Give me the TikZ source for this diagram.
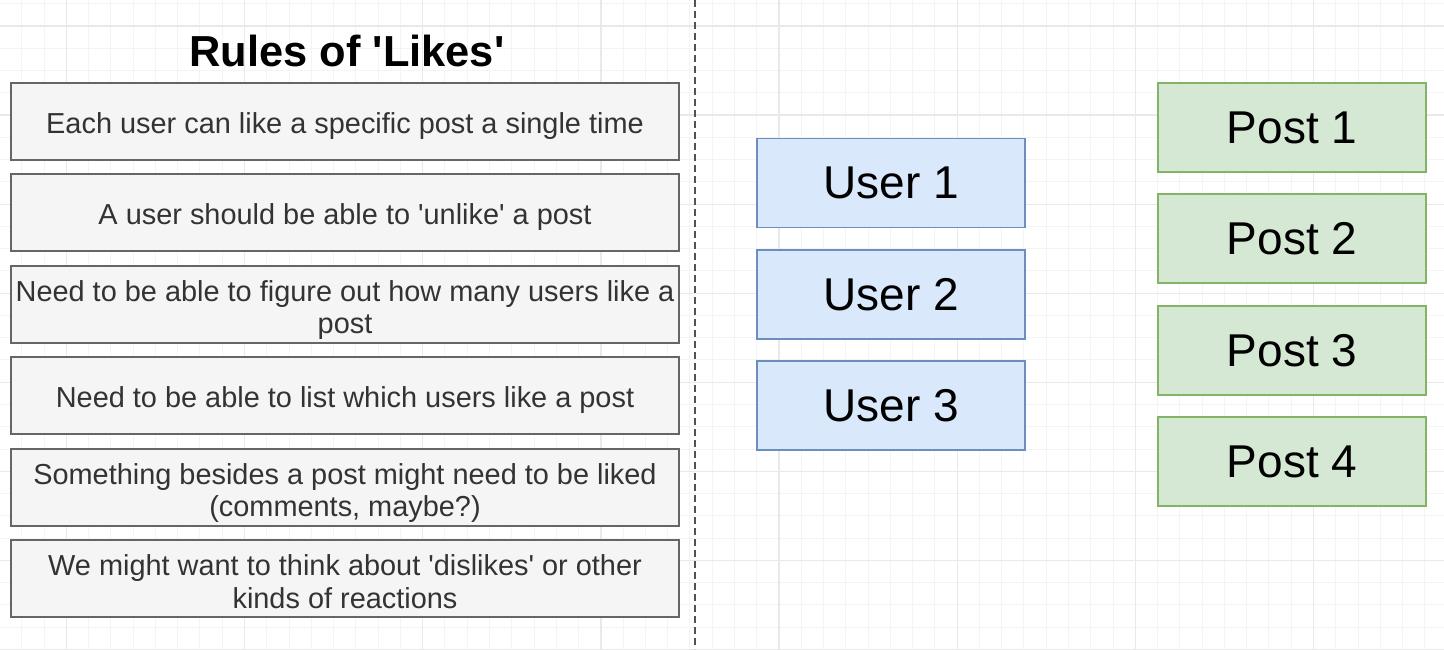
\documentclass[tikz,border=0pt]{standalone}
\usepackage{fontspec}
\setmainfont{Liberation Sans}
\definecolor{gridminor}{RGB}{244,244,244}
\definecolor{gridmajor}{RGB}{233,233,233}
\definecolor{rulefill}{RGB}{245,245,245}
\definecolor{ruleline}{RGB}{102,102,102}
\definecolor{ruletext}{RGB}{51,51,51}
\definecolor{userfill}{RGB}{218,232,252}
\definecolor{userline}{RGB}{108,142,191}
\definecolor{postfill}{RGB}{213,232,212}
\definecolor{postline}{RGB}{130,179,102}
\usetikzlibrary{positioning}

\tikzset{
    rulebox/.style={draw=ruleline, line width=1pt, fill=rulefill, text=ruletext,
        minimum width=334pt, minimum height=38.5pt, inner sep=0pt,
        align=center, text depth=0pt, font=\fontsize{14.45}{16.2}\selectfont},
    oneline/.style={text height=12pt},
    twoline/.style={text height=29.5pt},
    userbox/.style={draw=userline, line width=0.7pt, fill=userfill,
        minimum width=134pt, minimum height=44.5pt, inner sep=0pt,
        font=\fontsize{23}{27}\selectfont},
    postbox/.style={userbox, draw=postline, fill=postfill}
}

\begin{document}
\begin{tikzpicture}[x=0.5pt, y=-0.5pt]
    \useasboundingbox (0,0) rectangle (1444,649);
    \fill[white] (0,0) rectangle (1444,649);

    % Grid
    \foreach \i in {0,...,64} {
        \draw[gridminor, line width=0.5pt] ({21.8+22.27*\i},0) -- ++(0,649);
    }
    \foreach \i in {0,...,29} {
        \draw[gridminor, line width=0.5pt] (0,{3.65+22.27*\i}) -- ++(1444,0);
    }
    \foreach \i in {0,...,8} {
        \draw[gridmajor, line width=0.6pt] ({66.6+178.1*\i},0) -- ++(0,649);
    }
    \foreach \i in {0,...,7} {
        \draw[gridmajor, line width=0.6pt] (0,{26+89.08*\i}) -- ++(1444,0);
    }

    % Divider
    \coordinate (divtop) at (695,0);
    \coordinate (divbot) at (695,649);
    \draw[ruleline!80!black, line width=1pt, dash pattern=on 3.5pt off 2pt] (divtop) -- (divbot);

    % Rules
    \node[anchor=base, font=\fontsize{21.7}{25}\selectfont\bfseries] (title) at (347,66) {Rules of \textquotesingle Likes\textquotesingle};
    \node[rulebox, oneline] (rule1) at (345,121.5) {Each user can like a specific post a single time};
    \node[rulebox, oneline] (rule2) at (345,212.5) {A user should be able to \textquotesingle unlike\textquotesingle{} a post};
    \node[rulebox, twoline] (rule3) at (345,304) {Need to be able to figure out how many users like a\\post};
    \node[rulebox, oneline] (rule4) at (345,395.5) {Need to be able to list which users like a post};
    \node[rulebox, twoline] (rule5) at (345,487) {Something besides a post might need to be liked\\(comments, maybe?)};
    \node[rulebox, twoline] (rule6) at (345,578.5) {We might want to think about \textquotesingle dislikes\textquotesingle{} or other\\kinds of reactions};

    % Users
    \foreach \n/\y in {1/183, 2/294.5, 3/405.5} {
        \node[userbox] (user\n) at (891,\y) {User \n};
    }

    % Posts
    \foreach \n/\y in {1/127.5, 2/238.5, 3/350.5, 4/461.5} {
        \node[postbox] (post\n) at (1292,\y) {Post \n};
    }
\end{tikzpicture}
\end{document}
